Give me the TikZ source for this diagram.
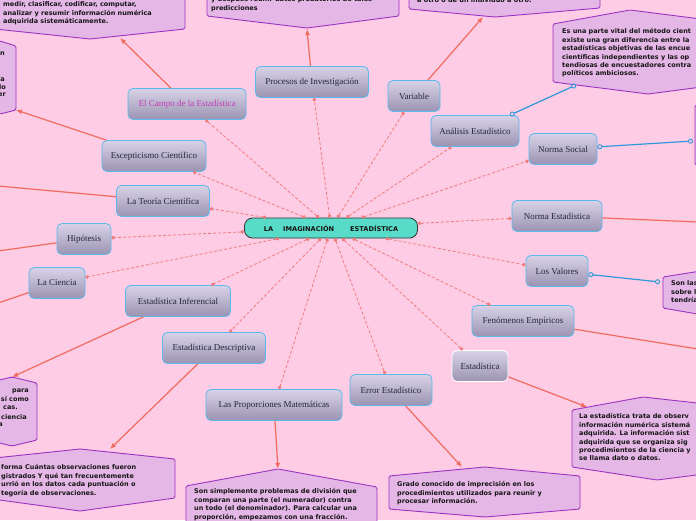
\documentclass[tikz,border=0pt]{standalone}
\usepackage{fontspec}
\setmainfont{Liberation Serif}
\newfontfamily\dsans{DejaVu Sans}
\usetikzlibrary{arrows.meta}
\definecolor{bg}{HTML}{FFCCE5}
\definecolor{topicbd}{HTML}{5DB8EC}
\definecolor{topictop}{HTML}{D8D2E8}
\definecolor{topicbot}{HTML}{9A94B2}
\definecolor{topictx}{HTML}{26263A}
\definecolor{campotx}{HTML}{C43CB5}
\definecolor{descfill}{HTML}{E5B7E6}
\definecolor{descbd}{HTML}{9C33C2}
\definecolor{desctx}{HTML}{151515}
\definecolor{redc}{HTML}{F26B5F}
\definecolor{bluec}{HTML}{2E99DA}
\definecolor{dashc}{HTML}{F07A7A}
\definecolor{rootfill}{HTML}{58DBC8}
\tikzset{
 topic/.style={draw=topicbd, line width=0.8pt, rounded corners=5pt, top color=topictop, bottom color=topicbot, minimum height=31pt, inner sep=0pt, font=\fontsize{9}{11}\selectfont, text=topictx},
 desctext/.style={font=\dsans\bfseries\fontsize{6.5}{8.4}\selectfont, align=left, anchor=north west, inner sep=0pt, text=desctx},
 fragtext/.style={font=\dsans\bfseries\fontsize{6.5}{8.4}\selectfont, anchor=east, inner sep=0pt, text=desctx},
 descbox/.style={fill=descfill, draw=descbd, line width=0.9pt, rounded corners=1.5pt},
 link/.style={draw=dashc, line width=0.8pt, dash pattern=on 3pt off 2pt, {Circle[length=3.5pt]}-{Circle[length=3.5pt]}},
 redline/.style={draw=redc, line width=1.2pt},
 redarrow/.style={draw=redc, line width=1.2pt, -{Latex[length=6pt,width=5pt]}},
 blueline/.style={draw=bluec, line width=1.2pt, {Circle[open,length=5pt,line width=0.9pt]}-{Circle[open,length=5pt,line width=0.9pt]}}
}
\begin{document}
\begin{tikzpicture}[x=1pt,y=-1pt]
\useasboundingbox[fill=bg] (0,0) rectangle (696,520);
\begin{scope}
\clip (0,0) rectangle (696,520);
% description boxes
\draw[descbox] (-5,-20) -- (90,-30) -- (185,-20) -- (185,29) -- (90,39) -- (-5,29) -- cycle;
\draw[descbox] (207,-20) -- (303,-30) -- (399,-20) -- (399,16) -- (307,28) -- (207,16) -- cycle;
\draw[descbox] (409,-20) -- (495,-30) -- (600,-20) -- (600,8) -- (495,17) -- (409,9) -- cycle;
\draw[descbox] (553,24) -- (630,10) -- (740,24) -- (740,82) -- (648,94) -- (553,82) -- cycle;
\draw[descbox] (695,105) -- (740,100) -- (760,105) -- (760,165) -- (740,170) -- (695,165) -- cycle;
\draw[descbox] (663,277) -- (720,268) -- (780,277) -- (780,308) -- (720,318) -- (663,308) -- cycle;
\draw[descbox] (-40,46) -- (0,41) -- (16,46) -- (16,110) -- (0,114) -- (-40,110) -- cycle;
\draw[descbox] (-13,383) -- (12,377) -- (37,383) -- (37,440) -- (12,446) -- (-13,440) -- cycle;
\draw[descbox] (-15,459) -- (80,449) -- (175,459) -- (175,498) -- (80,511) -- (-15,498) -- cycle;
\draw[descbox] (186,486) -- (278,469) -- (377,487) -- (377,560) -- (278,570) -- (186,560) -- cycle;
\draw[descbox] (389,476) -- (485,467) -- (580,476) -- (580,509) -- (485,517) -- (389,509) -- cycle;
\draw[descbox] (572,410) -- (643,397) -- (760,410) -- (760,467) -- (657,480) -- (572,467) -- cycle;
% description texts
\node[desctext] (tA) at (3,1.5) {medir, clasificar, codificar, computar,\\analizar y resumir información numérica\\adquirida sistemáticamente.};
\node[desctext] (tB) at (211,-3.5) {y después reunir datos probatorios de tales\\predicciones};
\node[desctext] (tC) at (417,-2.5) {a otro o de un individuo a otro.};
\node[desctext] (tD) at (562,28.5) {Es una parte vital del método cient\\existe una gran diferencia entre la\\estadísticas objetivas de las encue\\científicas independientes y las op\\tendiosas de encuestadores contra\\políticos ambiciosos.};
\node[desctext] (tF) at (671,280.5) {Son las\\sobre l\\tendría};
\node[fragtext] (tN1) at (5,54) {n};
\node[fragtext] (tN2) at (5,80) {a};
\node[fragtext] (tN3) at (6,87) {lo};
\node[fragtext] (tN4) at (6,95) {er};
\node[fragtext] (tI1) at (29,391) {para};
\node[fragtext] (tI2) at (29,399) {sí como};
\node[fragtext] (tI3) at (18,408) {cas.};
\node[fragtext] (tI4) at (27,417) {ciencia};
\node[fragtext] (tI5) at (3,425) {a};
\node[desctext] (tJ) at (1,464.5) {forma Cuántas observaciones fueron\\gistrados Y qué tan frecuentemente\\urrió en los datos cada puntuación o\\tegoría de observaciones.};
\node[desctext] (tK) at (194,488.5) {Son simplemente problemas de división que\\comparan una parte (el numerador) contra\\un todo (el denominador). Para calcular una\\proporción, empezamos con una fracción.};
\node[desctext] (tL) at (397,481.5) {Grado conocido de imprecisión en los\\procedimientos utilizados para reunir y\\procesar información.};
\node[desctext] (tM) at (579,413.5) {La estadística trata de observ\\información numérica sistemá\\adquirida. La información sist\\adquirida que se organiza sig\\procedimientos de la ciencia y\\se llama dato o datos.};
% free ends
\coordinate (pA) at (120,38);
\coordinate (pB) at (307,29);
\coordinate (pC) at (483,17);
\coordinate (pD) at (576,85);
\coordinate (pE) at (693,141);
\coordinate (pF) at (660,282);
\coordinate (pN) at (16,110);
\coordinate (pI) at (12,377);
\coordinate (pJ) at (110,449);
\coordinate (pK) at (278,469);
\coordinate (pL) at (462,467);
\coordinate (pM) at (587,407);
\coordinate (e1) at (-2,186);
\coordinate (e2) at (-2,251);
\coordinate (e3) at (-2,303);
\coordinate (e4) at (698,222);
\coordinate (e5) at (698,349);
% root
\node[draw=black!80, line width=0.8pt, fill=rootfill, rounded corners=8pt, minimum width=173pt, minimum height=20pt, inner sep=0pt, font=\dsans\bfseries\fontsize{6.6}{8}\selectfont, text=desctx] (root) at (331,228) {LA\hspace{10pt}IMAGINACIÓN\hspace{16pt}ESTADÍSTICA};
% topics
\node[topic, minimum width=118pt, text=campotx] (campo) at (187,104) {El Campo de la Estadística};
\node[topic, minimum width=113pt] (proc) at (312,82) {Procesos de Investigación};
\node[topic, minimum width=52pt] (var) at (414,96) {Variable};
\node[topic, minimum width=88pt] (anal) at (475,131) {Análisis Estadístico};
\node[topic, minimum width=68pt] (nsoc) at (563,149) {Norma Social};
\node[topic, minimum width=104pt] (escep) at (154,156) {Escepticismo Científico};
\node[topic, minimum width=93pt] (teoria) at (163,201) {La Teoría Científica};
\node[topic, minimum width=54pt] (hip) at (84,239) {Hipótesis};
\node[topic, minimum width=56pt] (cien) at (57,283) {La Ciencia};
\node[topic, minimum width=90pt] (nest) at (557,216) {Norma Estadística};
\node[topic, minimum width=62pt] (valores) at (557,271) {Los Valores};
\node[topic, minimum width=105pt] (infer) at (178,301) {Estadística Inferencial};
\node[topic, minimum width=102pt] (fenom) at (523,321) {Fenómenos Empíricos};
\node[topic, minimum width=103pt] (descr) at (214,348) {Estadística Descriptiva};
\node[topic, minimum width=56pt, draw=white] (estad) at (480,366) {Estadística};
\node[topic, minimum width=82pt] (error) at (391,390) {Error Estadístico};
\node[topic, minimum width=136pt] (prop) at (274,405) {Las Proporciones Matemáticas};
% dashed links
\foreach \t in {campo,proc,var,anal,nsoc,escep,teoria,hip,cien,nest,valores,infer,fenom,descr,estad,error,prop}
  \draw[link] (root) -- (\t);
% red connectors
\draw[redarrow] (campo) -- (pA);
\draw[redarrow] (proc) -- (pB);
\draw[redarrow] (var) -- (pC);
\draw[redarrow] (escep) -- (pN);
\draw[redline] (teoria) -- (e1);
\draw[redline] (hip) -- (e2);
\draw[redline] (cien) -- (e3);
\draw[redarrow] (infer) -- (pI);
\draw[redarrow] (descr) -- (pJ);
\draw[redarrow] (prop) -- (pK);
\draw[redarrow] (error) -- (pL);
\draw[redarrow] (estad) -- (pM);
\draw[redline] (nest) -- (e4);
\draw[redline] (fenom) -- (e5);
% blue connectors
\draw[blueline] (anal) -- (pD);
\draw[blueline] (nsoc) -- (pE);
\draw[blueline] (valores) -- (pF);
\end{scope}
\end{tikzpicture}
\end{document}
